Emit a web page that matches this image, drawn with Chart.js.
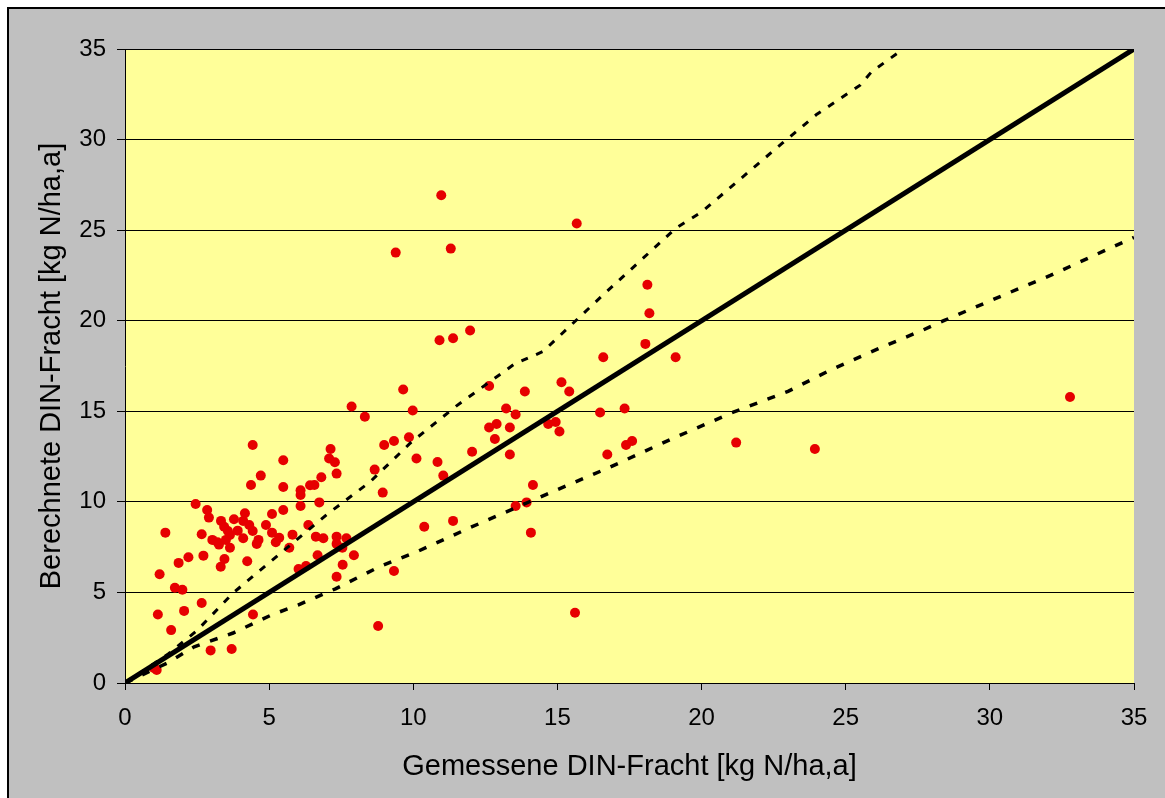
<!DOCTYPE html>
<html>
<head>
<meta charset="utf-8">
<script src="https://cdn.jsdelivr.net/npm/chart.js@4"></script>
<style>
  html, body { margin: 0; padding: 0; background: #fff; }
  #wrap { width: 1165px; height: 798px; }
</style>
</head>
<body>
<div id="wrap"><canvas id="din" width="1165" height="798"></canvas></div>
<script>
// measured vs. calculated DIN load [kg N/ha,a]
const measured = [
  1.0, 1.1, 1.14, 1.6, 2.05, 2.66, 2.97, 3.7, 4.44, 8.78,
  7.86, 8.32, 9.98, 4.43, 7.13, 7.08, 7.28, 5.49, 7.34, 4.71,
  4.37, 5.49, 6.09, 6.09, 6.42, 6.57, 6.81, 8.99, 9.33, 9.85,
  10.11, 8.66, 8.94, 2.45, 2.85, 2.91, 3.33, 3.44, 3.57, 3.64,
  3.78, 4.16, 4.1, 4.31, 4.43, 3.91, 3.03, 3.21, 3.26, 3.5,
  3.64, 4.1, 4.63, 4.57, 4.89, 5.1, 5.1, 5.35, 5.23, 5.49,
  5.81, 6.09, 5.7, 6.36, 6.74, 6.62, 6.88, 7.34, 7.68, 7.34,
  7.54, 7.94, 6.68, 6.28, 6.02, 7.55, 7.34, 9.33, 1.4, 2.66,
  2.72, 2.2, 1.86, 3.32, 3.45, 4.24, 1.2, 1.73, 1.99, 10.97,
  15.67, 9.39, 11.3, 18.12, 18.19, 10.91, 11.38, 11.97, 18.05, 19.1,
  16.59, 9.65, 12.63, 13.87, 15.14, 15.41, 13.22, 13.55, 12.63, 12.89,
  13.35, 12.83, 14.68, 14.94, 15.07, 16.48, 17.33, 17.38, 17.59, 16.73,
  10.84, 12.04, 13.35, 11.04, 14.15, 13.93, 13.55, 10.38, 11.38, 14.08,
  15.61, 21.2, 23.93, 32.78
];
const calculated = [
  0.83, 0.72, 3.78, 2.92, 3.98, 4.42, 1.8, 1.88, 3.78, 3.15,
  15.26, 14.7, 15.04, 13.14, 12.92, 12.39, 12.19, 12.3, 11.56, 11.45,
  10.93, 10.82, 10.64, 10.38, 10.92, 10.93, 11.36, 13.14, 13.36, 13.57,
  12.39, 11.78, 10.51, 9.88, 9.55, 9.13, 8.95, 8.63, 8.39, 8.17,
  9.04, 9.37, 8.95, 8.72, 8.39, 8.41, 7.9, 7.77, 7.64, 7.9,
  7.47, 7.99, 7.9, 7.68, 8.72, 9.33, 8.3, 8.02, 7.77, 9.55,
  8.19, 9.77, 7.47, 8.72, 9.97, 8.08, 7.99, 8.08, 7.99, 7.68,
  7.47, 7.05, 7.05, 6.46, 6.29, 6.53, 5.87, 6.18, 8.3, 8.21,
  7.03, 6.94, 6.63, 6.42, 6.85, 6.72, 6.0, 5.26, 5.15, 26.93,
  25.37, 23.76, 23.98, 21.99, 20.41, 18.92, 19.03, 19.46, 18.72, 17.98,
  17.98, 16.2, 16.4, 16.09, 16.6, 16.09, 15.15, 14.82, 14.1, 14.3,
  14.1, 13.47, 14.3, 14.41, 13.88, 14.93, 15.15, 13.14, 13.36, 12.61,
  12.2, 12.77, 12.61, 11.45, 10.93, 9.97, 9.77, 8.63, 8.95, 8.3,
  3.88, 13.27, 12.92, 15.79
];

// 1:1 line
const lineX = [0, 35];
const lineY = [0, 35];

// upper and lower band
const upperX = [0, 1.5, 2.5, 3.75, 5.5, 7, 8.5, 9.9, 11.5, 13.5, 14.5, 16.5, 19.1, 20, 22.8, 24, 25.5, 25.9, 27.0];
const upperY = [0, 1.6, 2.9, 4.97, 7.3, 9.3, 11.1, 13.25, 15.3, 17.6, 18.3, 21.3, 25.1, 26.0, 29.8, 31.4, 33.0, 33.75, 35.0];
const lowerX = [0, 1.45, 2.4, 3.75, 5.1, 6.0, 7.3, 8.8, 10.2, 12, 14.6, 16.8, 19, 21.1, 23, 24.5, 26.2, 27.7, 28.4, 30.6, 32.1, 34.3, 35];
const lowerY = [0, 1.09, 2.0, 2.76, 3.77, 4.3, 5.2, 6.4, 7.3, 8.6, 10.4, 11.9, 13.5, 14.95, 16.1, 17.3, 18.5, 19.5, 20.0, 21.5, 22.5, 24.1, 24.6];

const xTicks = [0, 5, 10, 15, 20, 25, 30, 35];
const yTicks = [0, 5, 10, 15, 20, 25, 30, 35];

const pts = (xs, ys) => xs.map((x, i) => ({ x: x, y: ys[i] }));

const font = "'Liberation Sans', Arial, sans-serif";

const backdrop = {
  id: "backdrop",
  beforeDraw(chart) {
    const c = chart.ctx;
    const a = chart.chartArea;
    c.save();
    c.fillStyle = "#ffffff";
    c.fillRect(0, 0, chart.width, chart.height);
    c.fillStyle = "#c0c0c0";
    c.fillRect(8, 8, chart.width - 8, chart.height - 8);
    c.strokeStyle = "#000";
    c.lineWidth = 2;
    c.beginPath();
    c.moveTo(8, chart.height);
    c.lineTo(8, 8);
    c.lineTo(chart.width, 8);
    c.stroke();
    c.fillStyle = "#ffff99";
    c.fillRect(a.left, a.top, a.right - a.left, a.bottom - a.top);
    c.restore();
  }
};

new Chart(document.getElementById("din"), {
  type: "scatter",
  data: {
    datasets: [
      {
        label: "upper",
        data: pts(upperX, upperY),
        showLine: true,
        borderColor: "#000",
        borderWidth: 3,
        borderDash: [7, 9],
        pointRadius: 0,
        fill: false
      },
      {
        label: "lower",
        data: pts(lowerX, lowerY),
        showLine: true,
        borderColor: "#000",
        borderWidth: 3.5,
        borderDash: [8, 11],
        pointRadius: 0,
        fill: false
      },
      {
        label: "1:1",
        data: pts(lineX, lineY),
        showLine: true,
        borderColor: "#000",
        borderWidth: 5,
        pointRadius: 0,
        fill: false
      },
      {
        label: "DIN",
        data: pts(measured, calculated),
        pointRadius: 5,
        pointBackgroundColor: "#e60000",
        pointBorderWidth: 0,
        borderColor: "#e60000"
      }
    ]
  },
  options: {
    responsive: false,
    animation: false,
    layout: { padding: { left: 0, top: 49, right: 31, bottom: 0 } },
    plugins: { legend: { display: false }, tooltip: { enabled: false } },
    scales: {
      x: {
        type: "linear",
        min: 0,
        max: 35,
        afterFit: (s) => { s.height = 115; },
        afterBuildTicks: (s) => { s.ticks = xTicks.map(v => ({ value: v })); },
        grid: { drawOnChartArea: false, drawTicks: true, tickLength: 7, color: "#000", lineWidth: 1 },
        border: { display: true, color: "#000", width: 1 },
        ticks: { color: "#000", font: { family: font, size: 24 }, padding: 14, maxRotation: 0 },
        title: {
          display: true,
          text: "Gemessene DIN-Fracht [kg N/ha,a]",
          color: "#000",
          font: { family: font, size: 29 },
          padding: { top: 0, bottom: 14 }
        }
      },
      y: {
        type: "linear",
        min: 0,
        max: 35,
        afterFit: (s) => { s.width = 125; },
        afterBuildTicks: (s) => { s.ticks = yTicks.map(v => ({ value: v })); },
        grid: { drawOnChartArea: true, drawTicks: true, tickLength: 8, color: "#000", lineWidth: 1 },
        border: { display: true, color: "#000", width: 1 },
        ticks: { color: "#000", font: { family: font, size: 24 }, padding: 11 },
        title: {
          display: true,
          text: "Berechnete DIN-Fracht [kg N/ha,a]",
          color: "#000",
          font: { family: font, size: 29 },
          padding: { top: 35, bottom: 0 }
        }
      }
    }
  },
  plugins: [backdrop]
});
</script>
</body>
</html>
